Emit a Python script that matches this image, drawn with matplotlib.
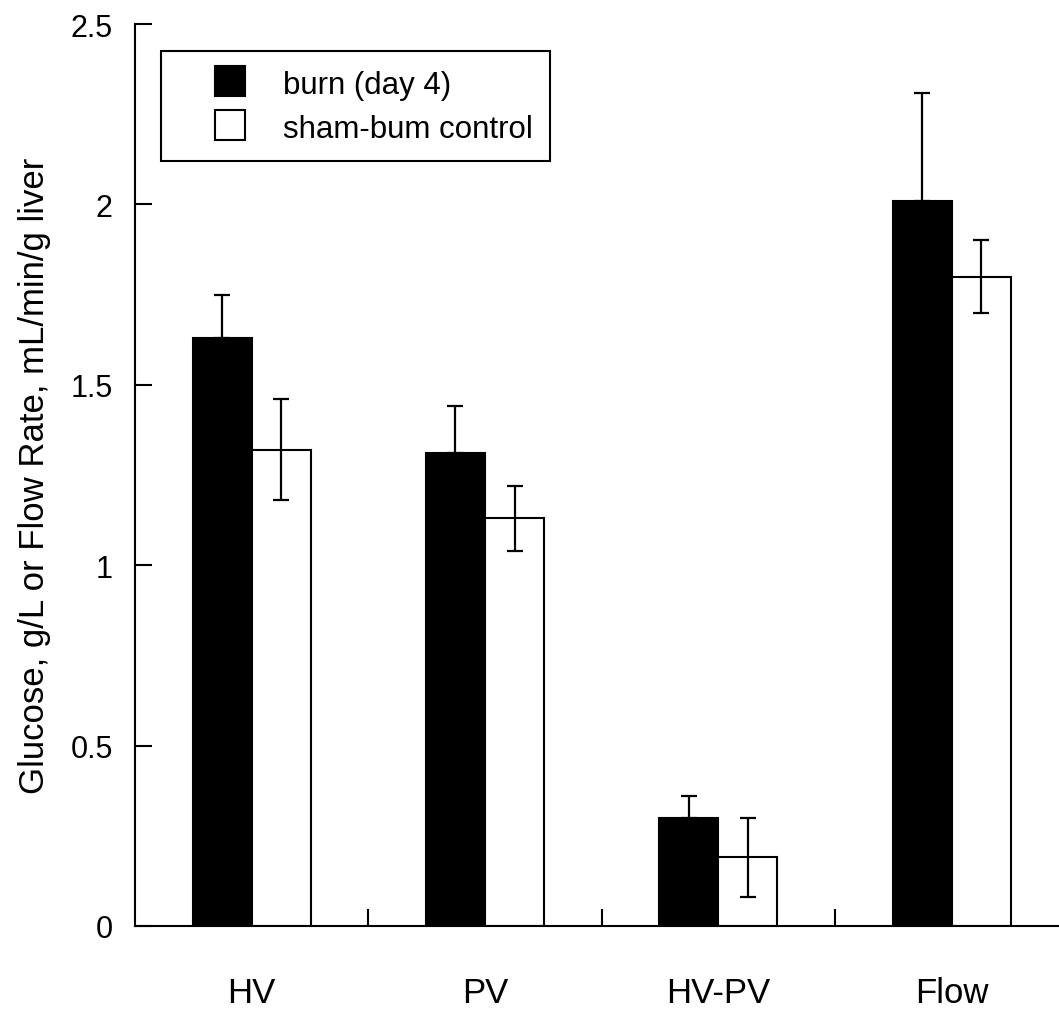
import numpy as np
import matplotlib
matplotlib.use("Agg")
import matplotlib.pyplot as plt
from matplotlib.lines import Line2D

plt.rcParams['font.family'] = ['Liberation Sans', 'DejaVu Sans']

# 数据
categories = ["HV", "PV", "HV-PV", "Flow"]
burn = [1.63, 1.31, 0.30, 2.01]
burn_err = [0.12, 0.13, 0.06, 0.30]
sham = [1.32, 1.13, 0.19, 1.80]
sham_err = [0.14, 0.09, 0.11, 0.10]
y_ticks = [0, 0.5, 1, 1.5, 2, 2.5]
y_tick_labels = ["0", "0.5", "1", "1.5", "2", "2.5"]
legend_labels = ["burn (day 4)", "sham-bum control"]

fig = plt.figure(figsize=(10.59, 10.12), dpi=100)
ax = fig.add_axes([135 / 1059, 1 - 927 / 1012, 1 - 135 / 1059, (927 - 25) / 1012])

x = np.arange(len(categories))
w = 0.253

ax.bar(x - w / 2, burn, w, color="black", edgecolor="black", linewidth=1.5, zorder=2)
ax.bar(x + w / 2, sham, w, color="white", edgecolor="black", linewidth=1.5, zorder=2)

# burn 只有向上的误差线
ax.errorbar(x - w / 2, burn, yerr=[np.zeros(len(burn)), burn_err], fmt="none",
            ecolor="black", elinewidth=1.6, capsize=6, capthick=1.6, zorder=3)
ax.errorbar(x + w / 2, sham, yerr=sham_err, fmt="none",
            ecolor="black", elinewidth=1.6, capsize=6, capthick=1.6, zorder=3)

ax.set_xlim(-0.5, 3.46)
ax.set_ylim(0, 2.5)

ax.spines["top"].set_visible(False)
ax.spines["right"].set_visible(False)
ax.spines["left"].set_linewidth(1.5)
ax.spines["bottom"].set_linewidth(1.5)

ax.set_yticks(y_ticks)
ax.set_yticklabels(y_tick_labels)
ax.tick_params(axis="y", direction="in", length=12, width=1.5, pad=16, labelsize=22)

ax.set_xticks(x)
ax.set_xticklabels(categories)
ax.set_xticks([0.5, 1.5, 2.5], minor=True)
ax.tick_params(axis="x", which="major", length=0, pad=36, labelsize=25)
ax.tick_params(axis="x", which="minor", direction="in", length=12, width=1.5)

ax.set_ylabel("Glucose, g/L or Flow Rate, mL/min/g liver", fontsize=25, labelpad=14)

handles = [
    Line2D([], [], linestyle="none", marker="s", markersize=21,
           markerfacecolor="black", markeredgecolor="black", markeredgewidth=1.5),
    Line2D([], [], linestyle="none", marker="s", markersize=21,
           markerfacecolor="white", markeredgecolor="black", markeredgewidth=1.5),
]
leg = ax.legend(handles, legend_labels, loc="upper left",
                bbox_to_anchor=(26 / 924, 1 - 27 / 902),
                fontsize=22.5, frameon=True, fancybox=False, edgecolor="black",
                framealpha=1, handlelength=3.3, handleheight=1.0,
                handletextpad=0.05, labelspacing=0.4, borderpad=0.55,
                borderaxespad=0)
leg.get_frame().set_linewidth(1.5)

fig.savefig("out.png", dpi=100)
